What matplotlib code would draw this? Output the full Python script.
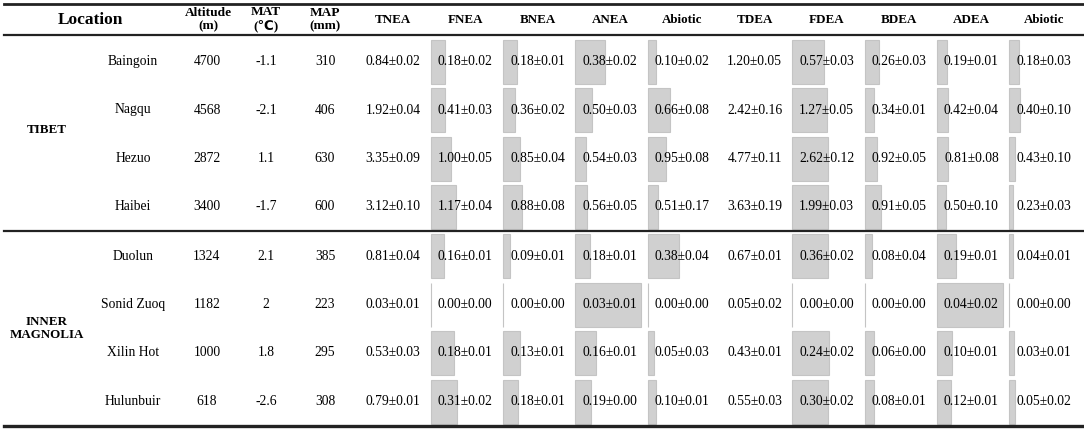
import numpy as np
import matplotlib.pyplot as plt

# table data
regions = ["TIBET", "INNER\nMAGNOLIA"]
locations = ["Baingoin", "Nagqu", "Hezuo", "Haibei",
             "Duolun", "Sonid Zuoq", "Xilin Hot", "Hulunbuir"]
altitude = ["4700", "4568", "2872", "3400", "1324", "1182", "1000", "618"]
mat = ["-1.1", "-2.1", "1.1", "-1.7", "2.1", "2", "1.8", "-2.6"]
map_mm = ["310", "406", "630", "600", "385", "223", "295", "308"]

tnea = [0.84, 1.92, 3.35, 3.12, 0.81, 0.03, 0.53, 0.79]
tnea_sd = [0.02, 0.04, 0.09, 0.10, 0.04, 0.01, 0.03, 0.01]
fnea = [0.18, 0.41, 1.00, 1.17, 0.16, 0.00, 0.18, 0.31]
fnea_sd = [0.02, 0.03, 0.05, 0.04, 0.01, 0.00, 0.01, 0.02]
bnea = [0.18, 0.36, 0.85, 0.88, 0.09, 0.00, 0.13, 0.18]
bnea_sd = [0.01, 0.02, 0.04, 0.08, 0.01, 0.00, 0.01, 0.01]
anea = [0.38, 0.50, 0.54, 0.56, 0.18, 0.03, 0.16, 0.19]
anea_sd = [0.02, 0.03, 0.03, 0.05, 0.01, 0.01, 0.01, 0.00]
abio_n = [0.10, 0.66, 0.95, 0.51, 0.38, 0.00, 0.05, 0.10]
abio_n_sd = [0.02, 0.08, 0.08, 0.17, 0.04, 0.00, 0.03, 0.01]

tdea = [1.20, 2.42, 4.77, 3.63, 0.67, 0.05, 0.43, 0.55]
tdea_sd = [0.05, 0.16, 0.11, 0.19, 0.01, 0.02, 0.01, 0.03]
fdea = [0.57, 1.27, 2.62, 1.99, 0.36, 0.00, 0.24, 0.30]
fdea_sd = [0.03, 0.05, 0.12, 0.03, 0.02, 0.00, 0.02, 0.02]
bdea = [0.26, 0.34, 0.92, 0.91, 0.08, 0.00, 0.06, 0.08]
bdea_sd = [0.03, 0.01, 0.05, 0.05, 0.04, 0.00, 0.00, 0.01]
adea = [0.19, 0.42, 0.81, 0.50, 0.19, 0.04, 0.10, 0.12]
adea_sd = [0.01, 0.04, 0.08, 0.10, 0.01, 0.02, 0.01, 0.01]
abio_d = [0.18, 0.40, 0.43, 0.23, 0.04, 0.00, 0.03, 0.05]
abio_d_sd = [0.03, 0.10, 0.10, 0.03, 0.01, 0.00, 0.01, 0.02]

headers = ["TNEA", "FNEA", "BNEA", "ANEA", "Abiotic",
           "TDEA", "FDEA", "BDEA", "ADEA", "Abiotic"]
means = [tnea, fnea, bnea, anea, abio_n, tdea, fdea, bdea, adea, abio_d]
sds = [tnea_sd, fnea_sd, bnea_sd, anea_sd, abio_n_sd,
       tdea_sd, fdea_sd, bdea_sd, adea_sd, abio_d_sd]

plt.rcParams['font.family'] = ['Liberation Serif', 'DejaVu Serif']

W, H = 1084, 429
fig = plt.figure(figsize=(W / 100, H / 100), dpi=100)
ax = fig.add_axes([0, 0, 1, 1])
ax.set_xlim(0, W)
ax.set_ylim(H, 0)
ax.axis('off')

row_y = np.array([61.5, 110, 158.5, 207, 256, 304.5, 353, 401.5])
col_x = 393 + 72.3 * np.arange(10)
cell_w = 66
bar_h = 44
fs = 9.8

# rules
ax.plot([4, W], [4, 4], color='#222222', lw=2.0)
ax.plot([4, W], [34.5, 34.5], color='#222222', lw=1.6)
ax.plot([4, W], [231, 231], color='#222222', lw=1.6)
ax.plot([4, W], [425.5, 425.5], color='#222222', lw=2.4)

# header
ax.text(90, 20, "Location", ha='center', va='center', fontsize=12.5, fontweight='bold')
for x, t in zip([208, 266, 325], ["Altitude\n(m)", "MAT\n(℃)", "MAP\n(mm)"]):
    ax.text(x, 19.5, t, ha='center', va='center', fontsize=9.6,
            fontweight='bold', linespacing=1.15,
            family=['Liberation Serif', 'DejaVu Sans'])
for x, t in zip(col_x, headers):
    ax.text(x, 20, t, ha='center', va='center', fontsize=9.4, fontweight='bold')

# region labels
ax.text(47, row_y[:4].mean() - 4, regions[0], ha='center', va='center',
        fontsize=9.4, fontweight='bold')
ax.text(47, row_y[4:].mean(), regions[1], ha='center', va='center',
        fontsize=9.4, fontweight='bold', linespacing=1.1)

# location & climate columns
for i, y in enumerate(row_y):
    ax.text(133, y, locations[i], ha='center', va='center', fontsize=fs)
    ax.text(207, y, altitude[i], ha='center', va='center', fontsize=fs)
    ax.text(266, y, mat[i], ha='center', va='center', fontsize=fs)
    ax.text(325, y, map_mm[i], ha='center', va='center', fontsize=fs)

# data bars: share of each component in the sum of its group (per row)
groups = [(1, 5), (6, 10)]
for g0, g1 in groups:
    comp = np.array(means[g0:g1])
    total = comp.sum(axis=0)
    for k in range(g0, g1):
        frac = np.array(means[k]) / total
        ax.barh(row_y, frac * cell_w, left=col_x[k] - 34.5, height=bar_h,
                color='#d0d0d0', edgecolor='#c4c4c4', linewidth=0.8, zorder=1)

# values
for k in range(10):
    for i, y in enumerate(row_y):
        ax.text(col_x[k], y, f"{means[k][i]:.2f}±{sds[k][i]:.2f}",
                ha='center', va='center', fontsize=fs, zorder=3)

fig.savefig("out.png", dpi=100)
